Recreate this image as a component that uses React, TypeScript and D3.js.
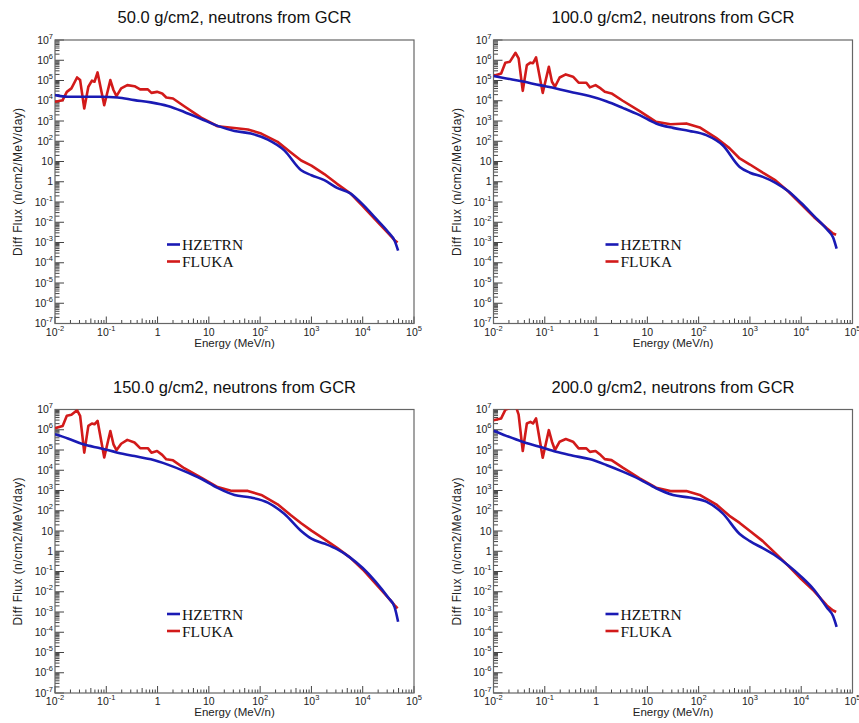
import React, { useRef, useEffect } from 'react';
import * as d3 from 'd3';

const flukaEnergy = [
  0.01, 0.0141, 0.017, 0.0209, 0.0269, 0.0309, 0.0372, 0.0447, 0.0525, 0.0589,
  0.0676, 0.0912, 0.12, 0.138, 0.158, 0.195, 0.257, 0.355, 0.457, 0.646,
  0.759, 0.977, 1.23, 1.48, 2.0, 3.31, 7.08, 14.8, 28.2, 57.5,
  105, 219, 398, 631, 1000, 1780, 3160, 5620, 10000, 17800,
  31600, 41700, 47900,
];
const hzetrnEnergy = [
  0.01, 0.0178, 0.0355, 0.0794, 0.166, 0.355, 0.741, 1.58, 3.31, 7.08,
  14.8, 31.6, 66.1, 141, 295, 631, 1000, 1780, 3160, 5620,
  10000, 17800, 31600, 41700, 49000,
];

// Diff flux (n/cm2/MeV/day)
const fluka50 = [
  8.9e3, 1.07e4, 2.75e4, 4.07e4, 1.41e5, 1.05e5, 4.17e3, 4.9e4, 9.8e4, 8.7e4,
  2.51e5, 6.0e3, 1.05e5, 3.39e4, 1.7e4, 4.07e4, 5.89e4, 5.25e4, 3.63e4, 3.63e4,
  2.45e4, 2.75e4, 2.29e4, 1.45e4, 1.29e4, 5.37e3, 1.48e3, 550, 468, 380,
  240, 93, 28, 11.2, 6.3, 2.4, 0.79, 0.28, 0.063, 0.013,
  0.0028, 0.0013, 0.001,
];
const hzetrn50 = [
  1.9e4, 1.58e4, 1.58e4, 1.58e4, 1.45e4, 1.07e4, 8.3e3, 5.5e3, 2.8e3, 1.26e3,
  575, 324, 240, 120, 35.5, 3.7, 2.1, 1.2, 0.5, 0.275,
  0.076, 0.0158, 0.0032, 0.00126, 0.0004,
];

const fluka100 = [
  1.66e5, 2.24e5, 7.6e5, 8.5e5, 2.34e6, 1.23e6, 3.09e4, 5.75e5, 7.6e5, 7.1e5,
  1.38e6, 2.45e4, 4.8e5, 8.7e4, 4.9e4, 1.41e5, 2.0e5, 1.55e5, 7.8e4, 7.8e4,
  4.57e4, 5.89e4, 4.07e4, 2.75e4, 2.29e4, 1.0e4, 3.09e3, 912, 692, 759,
  479, 148, 45.7, 14.1, 7.1, 2.8, 1.17, 0.33, 0.076, 0.0178,
  0.005, 0.0028, 0.0024,
];
const hzetrn100 = [
  1.66e5, 1.26e5, 9.1e4, 5.9e4, 4.07e4, 2.57e4, 1.7e4, 9.5e3, 4.47e3, 1.95e3,
  759, 457, 324, 200, 63, 5.4, 2.8, 1.74, 0.89, 0.34,
  0.089, 0.02, 0.0045, 0.0018, 0.0005,
];

const fluka150 = [
  1.2e6, 1.55e6, 4.9e6, 5.5e6, 9.3e6, 4.9e6, 7.4e4, 1.55e6, 2.04e6, 1.86e6,
  2.75e6, 4.27e4, 8.7e5, 1.91e5, 9.8e4, 2.04e5, 3.16e5, 2.34e5, 1.23e5, 1.23e5,
  7.4e4, 8.9e4, 5.75e4, 3.47e4, 3.09e4, 1.26e4, 4.37e3, 1.48e3, 955, 955,
  603, 209, 60, 24, 10.5, 3.98, 1.48, 0.5, 0.126, 0.025,
  0.005, 0.0022, 0.0015,
];
const hzetrn150 = [
  6.0e5, 3.7e5, 1.9e5, 1.2e5, 7.4e4, 5.0e4, 3.47e4, 1.9e4, 9.1e3, 3.8e3,
  1.35e3, 603, 447, 251, 71, 10, 4.17, 2.4, 1.26, 0.5,
  0.148, 0.0316, 0.005, 0.0018, 0.00033,
];

const fluka200 = [
  2.95e6, 3.63e6, 9.55e6, 1.2e7, 1.58e7, 5.6e6, 8.9e4, 2.04e6, 2.45e6, 2.04e6,
  3.63e6, 4.17e4, 9.55e5, 2.57e5, 1.0e5, 2.57e5, 3.47e5, 2.57e5, 1.2e5, 1.2e5,
  8.1e4, 8.9e4, 5.6e4, 3.55e4, 3.16e4, 1.35e4, 3.98e3, 1.38e3, 933, 933,
  603, 209, 56, 25, 10, 3.16, 0.79, 0.19, 0.042, 0.0107,
  0.0021, 0.0012, 0.001,
];
const hzetrn200 = [
  8.9e5, 5.0e5, 2.63e5, 1.45e5, 8.1e4, 5.25e4, 3.55e4, 1.82e4, 8.5e3, 3.55e3,
  1.29e3, 603, 447, 282, 74, 7.1, 3.16, 1.41, 0.6, 0.2,
  0.056, 0.0126, 0.00166, 0.00063, 0.000186,
];

const panelTitles = [
  '50.0 g/cm2, neutrons from GCR',
  '100.0 g/cm2, neutrons from GCR',
  '150.0 g/cm2, neutrons from GCR',
  '200.0 g/cm2, neutrons from GCR',
];
const xDecades = [-2, -1, 0, 1, 2, 3, 4, 5];
const yDecades = [-7, -6, -5, -4, -3, -2, -1, 0, 1, 2, 3, 4, 5, 6, 7];
const seriesNames = ['HZETRN', 'FLUKA'];
const seriesColors = ['#1a1ab4', '#d21a1a'];

const sans = "'Liberation Sans', Arial, Helvetica, sans-serif";
const serif = "'Liberation Serif', 'Times New Roman', serif";

const App = () => {
  const ref = useRef<SVGSVGElement>(null);

  useEffect(() => {
    if (!ref.current) return;
    const svg = d3.select(ref.current);
    svg.selectAll('*').remove();

    const W = 359;
    const H = 283.5;
    const panels = [
      { title: panelTitles[0], hz: hzetrn50, fl: fluka50, left: 55, top: 40 },
      { title: panelTitles[1], hz: hzetrn100, fl: fluka100, left: 493.5, top: 40 },
      { title: panelTitles[2], hz: hzetrn150, fl: fluka150, left: 55, top: 409.5 },
      { title: panelTitles[3], hz: hzetrn200, fl: fluka200, left: 493.5, top: 409.5 },
    ];

    // "10^e" label with a raised exponent
    const addPow = (sel: any, e: number, supSize: number) => {
      if (e === 0) { sel.text('1'); return; }
      if (e === 1) { sel.text('10'); return; }
      sel.append('tspan').text('10');
      sel.append('tspan').attr('dy', -5).attr('font-size', supSize).text(String(e));
    };

    panels.forEach((p, i) => {
      const g = svg.append('g').attr('transform', `translate(${p.left},${p.top})`);
      const x = d3.scaleLog().domain([1e-2, 1e5]).range([0, W]);
      const y = d3.scaleLog().domain([1e-7, 1e7]).range([H, 0]);

      // title
      g.append('text')
        .attr('x', W / 2).attr('y', -17)
        .attr('text-anchor', 'middle')
        .attr('font-family', sans).attr('font-size', 16.5).attr('fill', '#111')
        .text(p.title);

      const clipId = `clip-${i}`;
      g.append('clipPath').attr('id', clipId)
        .append('rect').attr('width', W).attr('height', H);

      // y ticks
      const yt = g.append('g').attr('stroke', '#444').attr('stroke-width', 1);
      yDecades.forEach(d => {
        yt.append('line').attr('x1', 0).attr('x2', 9).attr('y1', y(10 ** d)).attr('y2', y(10 ** d));
        if (d < 7) {
          for (let m = 2; m <= 9; m++) {
            const v = m * 10 ** d;
            yt.append('line').attr('x1', 0).attr('x2', 4.5).attr('y1', y(v)).attr('y2', y(v));
          }
        }
        const t = g.append('text')
          .attr('x', -2).attr('y', y(10 ** d) + 3.5)
          .attr('text-anchor', 'end')
          .attr('font-family', sans).attr('font-size', 10.5).attr('fill', '#222');
        addPow(t, d, 7.5);
      });

      // x ticks
      const xt = g.append('g').attr('stroke', '#444').attr('stroke-width', 1);
      xDecades.forEach(d => {
        xt.append('line').attr('x1', x(10 ** d)).attr('x2', x(10 ** d)).attr('y1', H).attr('y2', H - 7);
        if (d < 5) {
          for (let m = 2; m <= 9; m++) {
            const v = m * 10 ** d;
            xt.append('line').attr('x1', x(v)).attr('x2', x(v)).attr('y1', H).attr('y2', H - (m === 5 ? 5 : 3.5));
          }
        }
        const t = g.append('text')
          .attr('x', x(10 ** d)).attr('y', H + 12)
          .attr('text-anchor', 'middle')
          .attr('font-family', sans).attr('font-size', 10.5).attr('fill', '#222');
        addPow(t, d, 7.5);
      });

      // frame
      g.append('rect').attr('width', W).attr('height', H)
        .attr('fill', 'none').attr('stroke', '#666').attr('stroke-width', 1.2);

      // axis titles
      g.append('text')
        .attr('x', W / 2).attr('y', H + 23)
        .attr('text-anchor', 'middle')
        .attr('font-family', sans).attr('font-size', 11.5).attr('fill', '#222')
        .text('Energy (MeV/n)');
      g.append('text')
        .attr('transform', `translate(-33,${H / 2}) rotate(-90)`)
        .attr('text-anchor', 'middle')
        .attr('font-family', sans).attr('font-size', 12).attr('fill', '#222')
        .attr('letter-spacing', 0.4)
        .text('Diff Flux (n/cm2/MeV/day)');

      // curves
      const line = d3.line<[number, number]>().x(d => x(d[0])).y(d => y(d[1]));
      const plot = g.append('g').attr('clip-path', `url(#${clipId})`);
      const flPts = flukaEnergy.map((e, k) => [e, p.fl[k]] as [number, number]);
      const hzPts = hzetrnEnergy.map((e, k) => [e, p.hz[k]] as [number, number]);
      plot.append('path')
        .attr('d', line.curve(d3.curveLinear)(flPts) as string)
        .attr('fill', 'none').attr('stroke', seriesColors[1]).attr('stroke-width', 2.6)
        .attr('stroke-linejoin', 'round');
      plot.append('path')
        .attr('d', line.curve(d3.curveMonotoneX)(hzPts) as string)
        .attr('fill', 'none').attr('stroke', seriesColors[0]).attr('stroke-width', 2.6)
        .attr('stroke-linejoin', 'round');

      // legend
      seriesNames.forEach((name, k) => {
        const by = 210 + k * 17;
        g.append('line')
          .attr('x1', 112).attr('x2', 125).attr('y1', by - 5.5).attr('y2', by - 5.5)
          .attr('stroke', seriesColors[k]).attr('stroke-width', 2.6);
        g.append('text')
          .attr('x', 127).attr('y', by)
          .attr('font-family', serif).attr('font-size', 15.5).attr('fill', '#111')
          .text(name);
      });
    });
  }, []);

  return (
    <svg
      ref={ref}
      width={859}
      height={723}
      style={{ position: 'absolute', left: 0, top: 0, background: '#fff' }}
    />
  );
};

export default App;
